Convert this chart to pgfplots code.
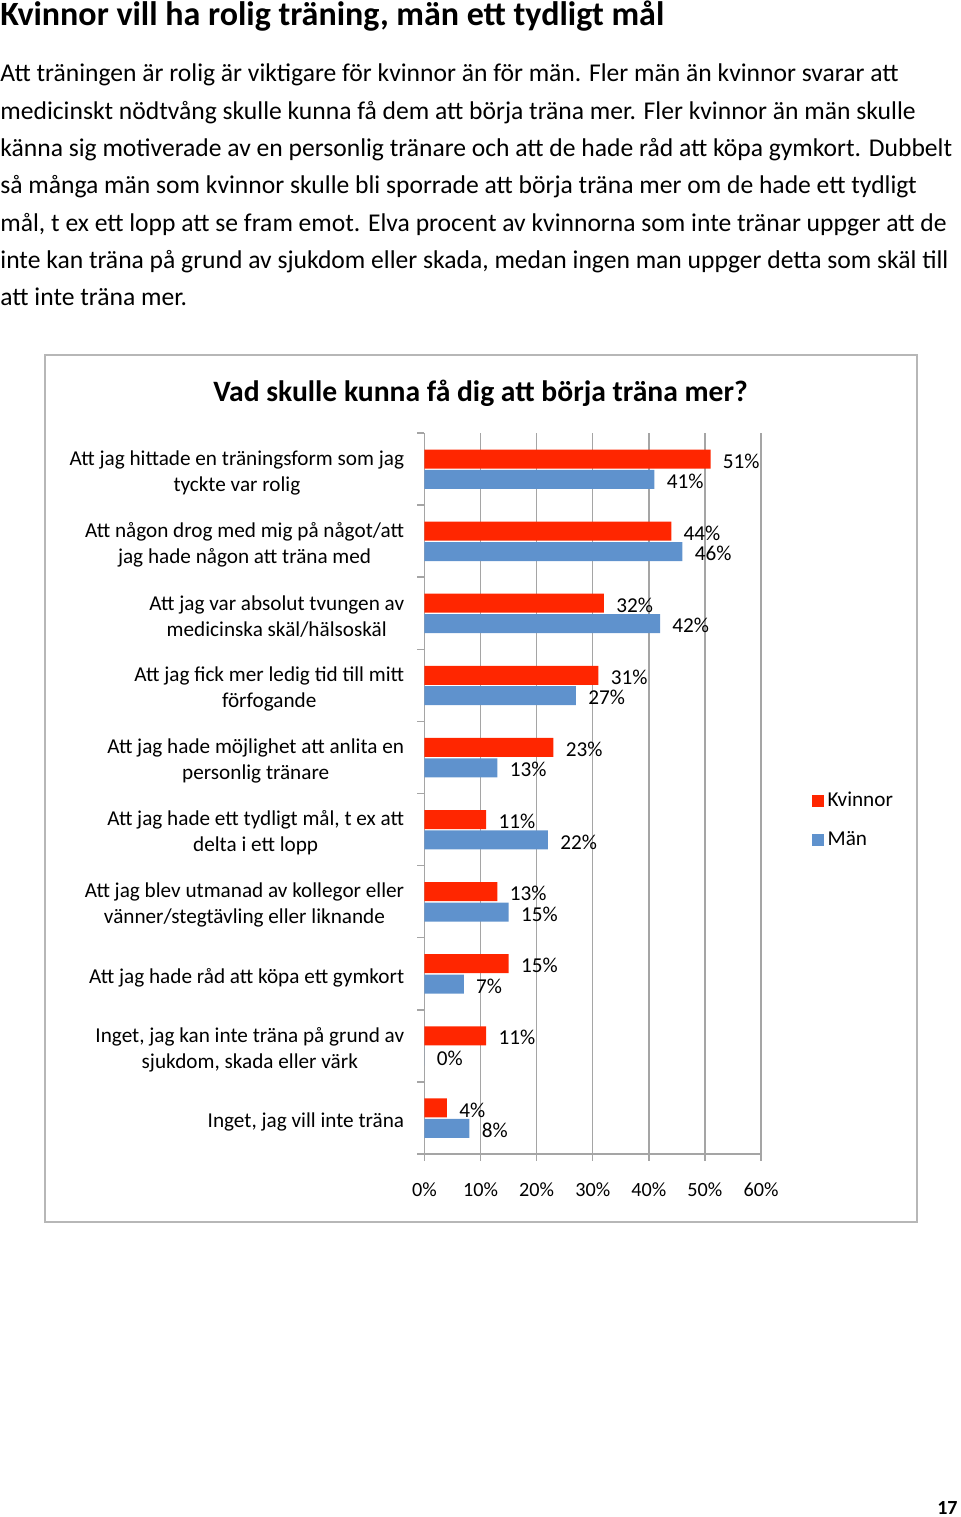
\documentclass[border=0pt]{standalone}
\usepackage{fontspec}
\setmainfont{Carlito}
\usepackage{pgfplots}
\pgfplotsset{compat=1.18}
\definecolor{kv}{RGB}{255,38,0}
\definecolor{man}{RGB}{95,146,205}
\definecolor{gridc}{RGB}{165,165,165}
\begin{document}
\begin{tikzpicture}[x=0.5pt,y=0.5pt]
\path[use as bounding box] (0,0) rectangle (960,1517);
\coordinate (axpos) at (424.5,363);
\node[anchor=base west, inner sep=0, font=\fontsize{17}{20}\selectfont\bfseries] at (0,1491) {Kvinnor vill ha rolig träning, män ett tydligt mål};
\foreach \t [count=\i from 0] in {%
{Att träningen är rolig är viktigare för kvinnor än för män. Fler män än kvinnor svarar att},
{medicinskt nödtvång skulle kunna få dem att börja träna mer. Fler kvinnor än män skulle},
{känna sig motiverade av en personlig tränare och att de hade råd att köpa gymkort. Dubbelt},
{så många män som kvinnor skulle bli sporrade att börja träna mer om de hade ett tydligt},
{mål, t ex ett lopp att se fram emot. Elva procent av kvinnorna som inte tränar uppger att de},
{inte kan träna på grund av sjukdom eller skada, medan ingen man uppger detta som skäl till},
{att inte träna mer.}}
  \node[anchor=base west, inner sep=0, font=\fontsize{12.8}{15}\selectfont] at (0,{1435-37.33*\i}) {\t};
\draw[gridc!80, line width=1pt] (45,295) rectangle (917,1162);
\node[anchor=base, inner sep=0, font=\fontsize{14.8}{17}\selectfont\bfseries] at (480.5,1115) {Vad skulle kunna få dig att börja träna mer?};
\node[anchor=base east, inner sep=0, font=\fontsize{10}{12}\selectfont\bfseries] at (958,3) {17};
\begin{axis}[
  at={(axpos)}, anchor=south west, scale only axis,
  width=168.25pt, height=360.5pt,
  xbar, bar width=9.5pt,
  legend image code/.code={\fill[#1] (0pt,-2.9pt) rectangle (5.6pt,2.9pt);},
  xmin=0, xmax=60, ymin=-0.5, ymax=9.5,
  axis lines*=left,
  axis line style={gridc, line width=0.75pt},
  xtick={0,10,...,60},
  xticklabel={\pgfmathprintnumber[assume math mode=true]{\tick}\%},
  xmajorgrids, grid style={gridc, line width=0.75pt},
  ytick={-0.5,0.5,...,9.5}, yticklabels={},
  extra y ticks={0,...,9},
  extra y tick style={major tick length=0pt},
  extra y tick labels={
    {Inget, jag vill inte träna},
    {Inget, jag kan inte träna på grund av\\sjukdom, skada eller värk},
    {Att jag hade råd att köpa ett gymkort},
    {Att jag blev utmanad av kollegor eller\\vänner/stegtävling eller liknande},
    {Att jag hade ett tydligt mål, t ex att\\delta i ett lopp},
    {Att jag hade möjlighet att anlita en\\personlig tränare},
    {Att jag fick mer ledig tid till mitt\\förfogande},
    {Att jag var absolut tvungen av\\medicinska skäl/hälsoskäl},
    {Att någon drog med mig på något/att\\jag hade någon att träna med},
    {Att jag hittade en träningsform som jag\\tyckte var rolig}},
  yticklabel style={align=center, inner sep=0pt, anchor=east, xshift=-10pt, yshift=-1.8pt, font=\fontsize{10.6}{13}\selectfont},
  xticklabel style={inner sep=0pt, anchor=north, yshift=-10.5pt, font=\fontsize{10.1}{12}\selectfont},
  tick align=outside, major tick length=3.5pt, tick style={gridc, line width=0.75pt},
  point meta=x,
  nodes near coords={\pgfmathprintnumber[assume math mode=true]{\pgfplotspointmeta}\%},
  nodes near coords style={anchor=west, inner sep=0pt, xshift=6pt, yshift=-1pt, font=\fontsize{10.6}{13}\selectfont},
  legend style={at={(1.134,0.4626)}, anchor=west, draw=none, fill=none, font=\fontsize{10.6}{13}\selectfont, row sep=7pt},
  legend cell align=left,
]
\addplot[fill=kv, draw=none, bar shift=5pt] coordinates {(4,0) (11,1) (15,2) (13,3) (11,4) (23,5) (31,6) (32,7) (44,8) (51,9)};
\addplot[fill=man, draw=none, bar shift=-5.2pt] coordinates {(8,0) (0,1) (7,2) (15,3) (22,4) (13,5) (27,6) (42,7) (46,8) (41,9)};
\legend{Kvinnor, Män}
\end{axis}
\end{tikzpicture}
\end{document}
